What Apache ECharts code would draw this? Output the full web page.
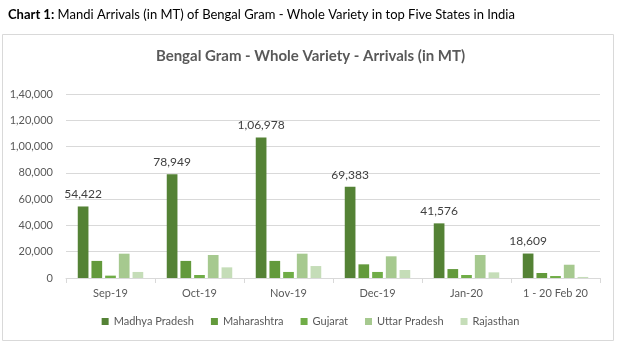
<!DOCTYPE html>
<html><head><meta charset="utf-8">
<script src="https://cdn.jsdelivr.net/npm/echarts@6/dist/echarts.min.js"></script>
<style>html,body{margin:0;padding:0;background:#fff}#c{width:621px;height:345px}</style>
</head><body><div id="c"></div>
<script>
const categories = ['Sep-19','Oct-19','Nov-19','Dec-19','Jan-20','1 - 20 Feb 20'];
const seriesNames = ['Madhya Pradesh','Maharashtra','Gujarat','Uttar Pradesh','Rajasthan'];
const madhyaPradesh = [54422, 78949, 106978, 69383, 41576, 18609];
const maharashtra = [13000, 13000, 13000, 10400, 6800, 3800];
const gujarat = [1800, 2300, 4600, 4600, 2300, 1500];
const uttarPradesh = [18500, 17500, 18500, 16500, 17500, 10100];
const rajasthan = [4600, 8100, 9100, 6100, 4300, 800];
const colors = ['#548235','#639A3C','#70AD47','#A6C98F','#C5DDB8'];
const yTicks = [0,20000,40000,60000,80000,100000,120000,140000];

function indian(n){
  let s = String(Math.round(n));
  if (s.length <= 3) return s;
  let last3 = s.slice(-3), rest = s.slice(0,-3);
  rest = rest.replace(/\B(?=(\d{2})+(?!\d))/g, ',');
  return rest + ',' + last3;
}
const font = 'Lato, "Open Sans", sans-serif';
const allData = [madhyaPradesh, maharashtra, gujarat, uttarPradesh, rajasthan];
const chart = echarts.init(document.getElementById('c'), null, {renderer:'canvas'});
chart.setOption({
  animation:false,
  color: colors,
  textStyle:{fontFamily:font},
  graphic:[{type:'rect', shape:{x:2.5,y:34.5,width:611,height:306}, style:{fill:'none',stroke:'#d9d9d9',lineWidth:1}, z:-1}],
  title:[
    {text:'{b|Chart 1:} Mandi Arrivals (in MT) of Bengal Gram - Whole Variety in top Five States in India',
     left:3, top:3,
     textStyle:{fontFamily:font,fontSize:13,fontWeight:'normal',color:'#000',
       rich:{b:{fontFamily:font,fontSize:13,fontWeight:'bold',color:'#000'}}}},
    {text:'Bengal Gram - Whole Variety - Arrivals (in MT)', left:'center', top:44,
     textStyle:{fontFamily:font,fontSize:15,fontWeight:'bold',color:'#595959'}}
  ],
  legend:{data:seriesNames, bottom:13, left:'center', itemWidth:7, itemHeight:7, itemGap:17,
    icon:'rect', textStyle:{fontFamily:font,fontSize:11,color:'#595959'}},
  grid:{left:66,right:21,top:94,bottom:67},
  xAxis:{type:'category', data:categories,
    axisLine:{lineStyle:{color:'#d9d9d9'}},
    axisTick:{show:true,length:5,lineStyle:{color:'#d9d9d9'}},
    axisLabel:{fontFamily:font,fontSize:11,color:'#595959',margin:10}},
  yAxis:{type:'value', min:0, max:140000, interval:20000,
    axisLine:{show:false}, axisTick:{show:false},
    splitLine:{lineStyle:{color:'#d9d9d9'}},
    axisLabel:{fontFamily:font,fontSize:11,color:'#595959',margin:13,formatter:v=>indian(v)}},
  series: seriesNames.map((n,i)=>({
    name:n, type:'bar', data:allData[i], barWidth:10.7, barGap:'28%',
    itemStyle:{color:colors[i]},
    label: i===0 ? {show:true, position:'top', distance:6, fontFamily:font, fontSize:12, color:'#404040', formatter:p=>indian(p.value)} : {show:false}
  }))
});
</script></body></html>
